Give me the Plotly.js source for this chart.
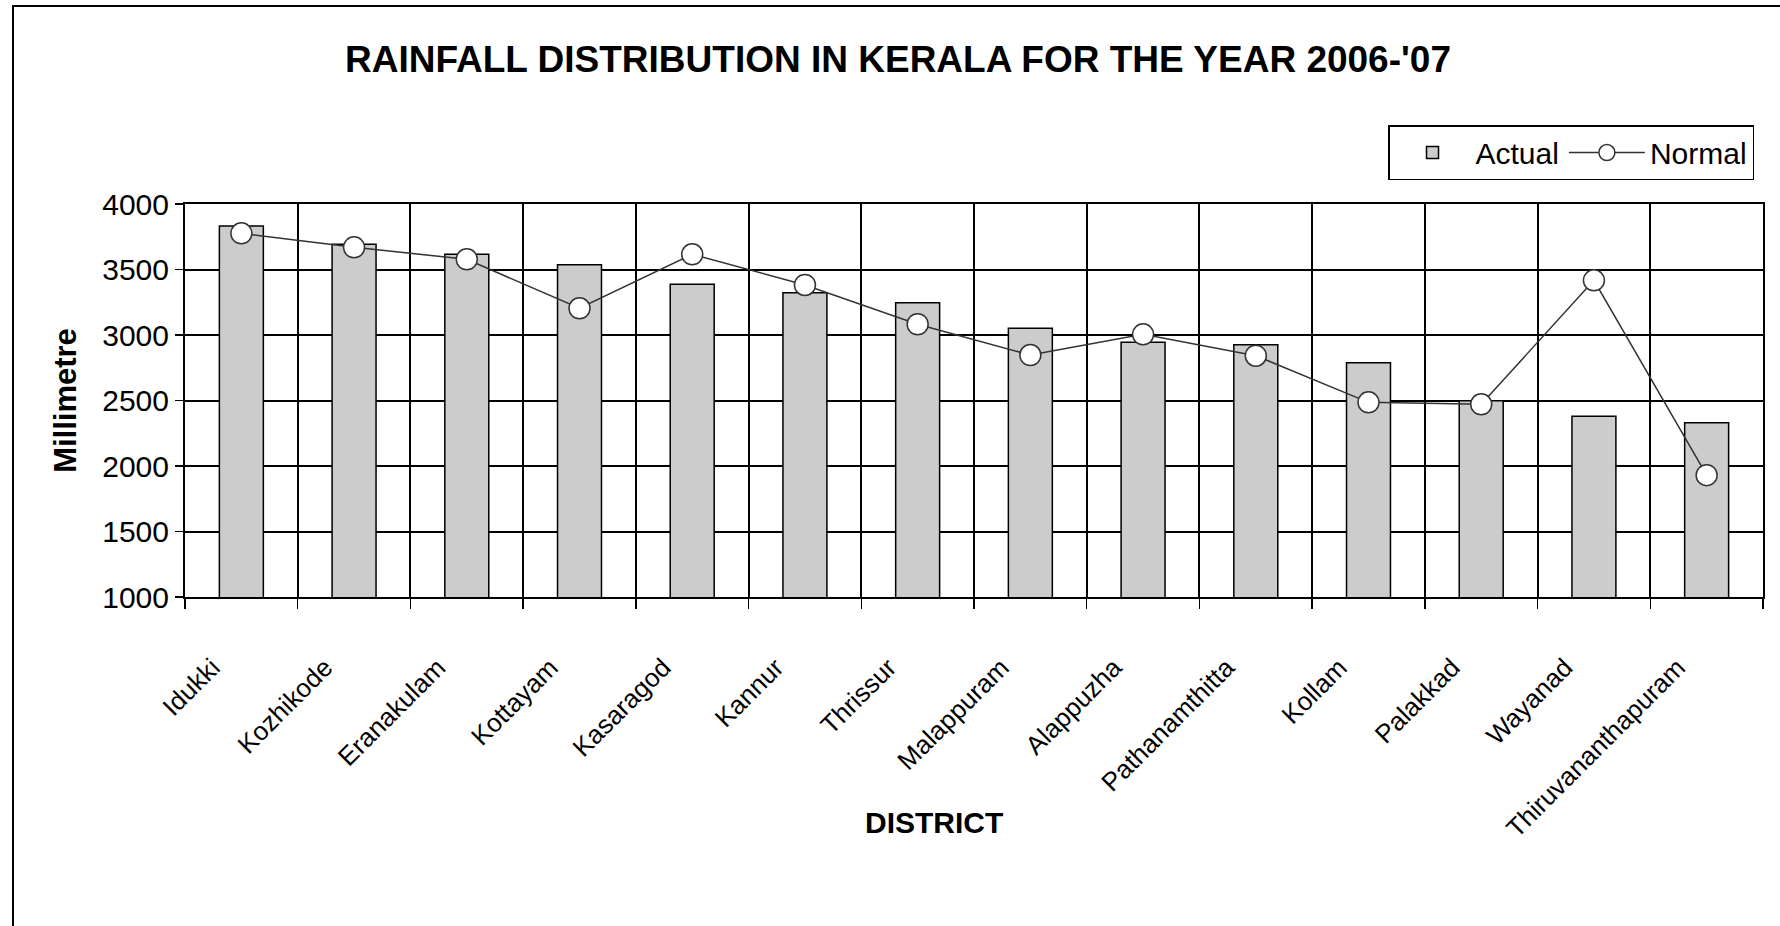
<!DOCTYPE html>
<html>
<head>
<meta charset="utf-8">
<script src="https://cdn.plot.ly/plotly-3.0.1.min.js"></script>
<style>
  html, body { margin: 0; padding: 0; background: #ffffff; }
  #wrap { position: relative; width: 1780px; height: 926px; overflow: hidden; }
  #chart { position: absolute; left: 0; top: 0; width: 1780px; height: 926px; }
  #frame { position: absolute; left: 12px; top: 5px; width: 1800px; height: 960px;
           border-left: 2px solid #000; border-top: 2px solid #000; pointer-events: none; }
</style>
</head>
<body>
<div id="wrap">
  <div id="chart"></div>
  <div id="frame"></div>
</div>
<script>
const districts = ['Idukki', 'Kozhikode', 'Eranakulam', 'Kottayam', 'Kasaragod', 'Kannur', 'Thrissur',
                   'Malappuram', 'Alappuzha', 'Pathanamthitta', 'Kollam', 'Palakkad', 'Wayanad', 'Thiruvananthapuram'];
const actual = [3832, 3692, 3616, 3537, 3387, 3323, 3247, 3051, 2944, 2926, 2789, 2498, 2379, 2330];
const normal = [3776, 3669, 3578, 3204, 3616, 3382, 3082, 2847, 3005, 2842, 2486, 2471, 3417, 1930];
const yTicks = [1000, 1500, 2000, 2500, 3000, 3500, 4000];

const FONT = 'Arial, "Liberation Sans", Helvetica, sans-serif';

const traces = [
  {
    type: 'bar', name: 'Actual', x: districts, y: actual,
    marker: { color: '#cccccc', line: { color: '#000000', width: 1.5 } }
  },
  {
    type: 'scatter', mode: 'lines+markers', name: 'Normal', x: districts, y: normal,
    line: { color: '#333333', width: 1.5 },
    marker: { symbol: 'circle', size: 21, color: '#ffffff', line: { color: '#333333', width: 1.5 } },
    cliponaxis: false
  }
];

const layout = {
  width: 1780, height: 926,
  margin: { l: 185, r: 17, t: 204, b: 329, autoexpand: false },
  paper_bgcolor: '#ffffff', plot_bgcolor: '#ffffff',
  font: { family: FONT, color: '#000000' },
  showlegend: true,
  bargap: 0.61,
  title: {
    text: "<b>RAINFALL DISTRIBUTION IN KERALA FOR THE YEAR 2006-'07</b>",
    font: { family: FONT, size: 37, color: '#000000' },
    xref: 'container', yref: 'container', x: 0.5045, y: 0.936, xanchor: 'center', yanchor: 'middle'
  },
  xaxis: {
    type: 'category', tickson: 'boundaries', tickangle: -45,
    range: [-0.5, districts.length - 0.5],
    ticks: 'outside', ticklen: 10, tickwidth: 1.5, tickcolor: '#000000',
    showgrid: true, gridcolor: '#000000', gridwidth: 2,
    showline: true, linecolor: '#000000', linewidth: 2, mirror: true,
    tickfont: { family: FONT, size: 26, color: '#000000' },
    ticklabelstandoff: 43, ticklabelshift: -29,
    automargin: false, fixedrange: true
  },
  yaxis: {
    range: [1000, 4000], tickmode: 'array', tickvals: yTicks, ticktext: yTicks.map(String),
    ticks: 'outside', ticklen: 8, tickwidth: 1.5, tickcolor: '#000000',
    showgrid: true, gridcolor: '#000000', gridwidth: 2,
    showline: true, linecolor: '#000000', linewidth: 2, mirror: true,
    zeroline: false,
    tickfont: { family: FONT, size: 30, color: '#000000' },
    title: { text: '<b>Millimetre</b>', font: { family: FONT, size: 31, color: '#000000' }, standoff: 16 },
    automargin: false, fixedrange: true
  },
  legend: {
    orientation: 'h', x: 0.9943, xanchor: 'right', y: 1.201, yanchor: 'top',
    bordercolor: '#000000', borderwidth: 1.5, bgcolor: '#ffffff',
    font: { family: FONT, size: 30, color: '#000000' },
    itemwidth: 76, tracegroupgap: 0
  },
  annotations: [
    {
      text: '<b>DISTRICT</b>', xref: 'paper', yref: 'paper', x: 0.4746, y: -0.575,
      xanchor: 'center', yanchor: 'middle', showarrow: false,
      font: { family: FONT, size: 30, color: '#000000' }
    }
  ]
};

Plotly.newPlot('chart', traces, layout, { displayModeBar: false, staticPlot: true });
</script>
</body>
</html>
